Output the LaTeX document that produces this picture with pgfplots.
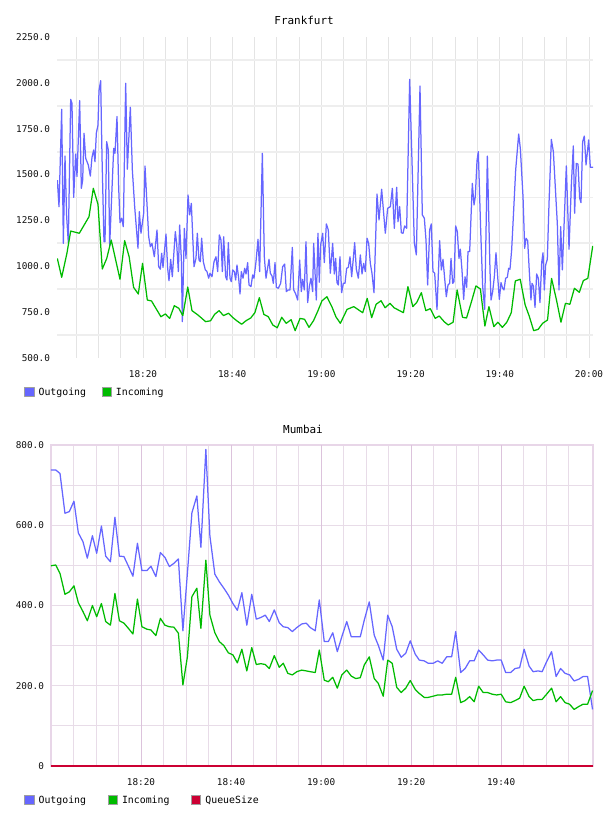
\documentclass[border=0pt]{standalone}
\usepackage{fontspec}
\usepackage{pgfplots}
\usepackage{pgfplotstable}
\pgfplotsset{compat=1.18}
\newfontfamily\chartfont{DejaVu Sans Mono}
\newcommand\tickfont{\chartfont\fontsize{9.4}{10}\selectfont}
\newcommand\legfont{\chartfont\fontsize{9.9}{10}\selectfont}
\newcommand\titlefont{\chartfont\fontsize{11}{12}\selectfont}

\definecolor{outblue}{HTML}{6666FF}
\definecolor{ingreen}{HTML}{00BB00}
\definecolor{queuered}{HTML}{CC0033}
\definecolor{fgrid}{HTML}{E4E4E4}
\definecolor{fgridh}{HTML}{EEEEEE}
\definecolor{mgrid}{HTML}{E8DCE8}
\definecolor{mgridmaj}{HTML}{DCC3DC}
\definecolor{mframe}{HTML}{E8D6E8}
\definecolor{ticktext}{HTML}{111111}

% Frankfurt: time in minutes after 18:00 (sampling clock), bytes/s
\pgfplotstableread{
t v
0.86 1470
1.23 1325
1.83 1856
2.20 1125
2.57 1601
2.94 1270
3.31 1129
3.84 1910
4.13 1889
4.51 1376
4.95 1612
5.25 1489
5.85 1903
6.22 1425
6.52 1470
6.82 1725
7.19 1589
7.78 1552
8.23 1492
8.60 1594
8.98 1634
9.27 1570
9.57 1725
9.94 1770
10.17 1957
10.54 2012
10.84 1598
11.28 1134
11.51 1134
11.88 1679
12.25 1634
12.55 1111
13.00 1380
13.45 1643
13.74 1616
14.19 1816
14.56 1434
14.86 1238
15.23 1262
15.60 1216
16.13 1998
16.50 1529
17.17 1867
17.62 1525
18.14 1325
18.88 1098
19.18 1298
19.55 1180
20.15 1289
20.45 1547
21.27 1161
21.64 1107
22.00 1125
22.53 1052
23.13 1198
23.50 998
23.87 984
24.17 1071
24.47 994
25.14 1176
25.51 989
25.81 921
26.18 1038
26.55 943
27.22 1189
27.52 1125
27.90 971
28.19 1225
28.57 1038
28.79 698
29.24 1207
29.61 1043
30.06 1389
30.43 1280
30.80 1343
31.40 998
31.84 1043
32.14 1180
32.51 1034
32.81 1025
33.11 1153
33.48 1025
33.93 980
34.30 971
34.67 935
34.97 962
35.42 943
35.87 1025
36.31 1052
36.69 971
37.06 1171
37.43 1143
37.73 971
38.03 1161
38.47 943
38.77 925
39.07 1129
39.44 935
39.74 916
40.04 980
40.41 971
40.71 925
41.00 1007
41.38 935
41.68 849
41.97 971
42.35 935
42.72 989
43.02 958
43.39 1020
43.69 898
44.13 889
44.51 953
44.80 935
45.25 1025
45.70 1147
46.07 971
46.67 1616
47.11 1052
47.49 935
47.78 980
48.16 1038
48.45 962
48.83 947
49.12 907
49.50 1020
49.80 885
50.24 880
50.76 907
51.21 998
51.66 1012
52.03 862
52.40 871
52.85 871
53.37 1103
53.67 871
54.12 849
54.56 816
55.01 1034
55.38 862
55.68 929
56.05 871
56.42 1134
56.80 802
57.17 889
57.54 935
57.91 862
58.14 1125
58.73 816
59.10 1180
59.40 913
59.70 1116
60.15 1180
60.52 1020
60.97 1231
61.41 1198
61.86 962
62.38 1125
62.75 958
63.05 1043
63.35 911
63.65 898
64.02 1052
64.39 856
64.76 907
65.14 907
65.51 989
65.88 994
66.26 1052
66.63 943
67.00 1043
67.30 1129
67.67 984
68.12 935
68.57 1062
68.94 958
69.31 1016
69.68 971
70.06 1153
70.43 1125
70.80 1016
71.17 962
71.62 856
72.29 1394
72.74 1252
73.33 1420
74.15 1180
74.67 1316
75.27 1325
75.72 1425
76.16 1207
76.69 1431
76.98 1243
77.36 1325
77.73 1183
78.10 1180
78.47 1220
78.92 1207
79.59 2019
80.63 1129
81.08 1062
81.90 1983
82.42 1280
82.87 1262
83.24 1143
83.61 898
84.06 1198
84.43 1231
84.80 971
85.18 962
85.70 765
86.29 1140
86.67 980
87.04 1038
87.41 935
87.78 834
88.16 898
88.53 907
88.83 1043
89.20 907
89.50 916
89.87 1220
90.24 1189
90.61 1043
90.91 1093
91.28 980
91.66 820
91.96 943
92.33 885
92.63 1080
93.00 1080
93.59 1452
93.97 1334
94.26 1380
94.64 1576
94.93 1625
95.46 1198
95.90 893
96.35 765
96.95 1601
97.54 980
97.77 816
98.14 862
98.51 943
98.88 1074
99.26 943
99.63 820
100.00 911
100.37 880
100.67 871
101.04 935
101.42 940
101.71 989
102.01 984
102.38 1089
102.76 1270
103.28 1525
103.95 1721
104.32 1643
104.92 1380
105.29 1098
105.59 1153
105.96 1140
106.33 971
106.70 816
106.93 907
107.23 893
107.60 776
107.97 958
108.34 935
108.71 802
109.09 1020
109.39 1074
109.68 871
109.98 1007
110.35 1038
110.73 1343
111.25 1692
111.70 1625
112.59 1231
112.96 871
113.34 1216
113.71 980
114.08 1216
114.60 1547
115.20 1093
115.72 1443
116.16 1656
116.46 1289
116.83 1561
117.21 1557
117.58 1371
117.88 1347
118.25 1679
118.62 1710
119.00 1552
119.59 1689
119.96 1540
120.63 1540
}\frOut

\pgfplotstableread{
t v
0.85 1043
1.83 940
3.00 1071
3.84 1192
5.77 1180
7.93 1270
8.90 1425
9.94 1338
10.90 985
11.90 1043
12.90 1143
14.86 929
15.90 1140
16.90 1052
17.90 885
18.95 849
19.90 1016
20.96 816
21.90 811
24.00 725
25.00 740
25.96 716
27.00 785
28.00 771
28.90 731
30.00 887
30.95 758
32.30 734
34.00 698
35.10 703
36.00 738
37.00 758
38.00 731
39.10 744
40.00 722
41.00 702
42.05 684
43.00 703
44.07 718
45.00 747
46.00 829
47.00 738
48.00 725
49.00 680
50.00 665
51.00 722
52.00 689
53.10 709
54.00 649
55.10 716
56.10 711
57.10 667
58.10 703
59.10 758
60.00 812
61.10 834
62.20 780
63.10 725
64.10 689
65.60 765
67.10 780
69.10 747
70.10 825
71.10 720
72.10 793
73.20 812
74.10 774
75.20 798
76.10 774
78.20 747
79.20 889
80.30 780
81.20 804
82.20 856
83.20 758
84.20 769
85.30 716
86.20 729
87.30 698
88.20 680
89.30 695
90.20 871
91.40 722
92.30 718
93.40 807
94.40 893
95.40 876
96.40 674
97.30 780
98.40 671
99.30 695
100.30 667
101.30 695
102.30 747
103.20 920
104.30 929
105.40 789
106.30 729
107.30 649
108.30 656
109.30 689
110.40 707
111.30 934
112.40 816
113.40 695
114.40 798
115.40 793
116.40 880
117.50 858
118.40 922
119.40 934
120.50 1111
}\frIn

% Mumbai: minutes after 18:00
\pgfplotstableread{
t v
0 738
1.04 738
2.0 729
3.1 630
4.07 634
5.1 660
6.07 581
7.1 559
8.07 518
9.2 574
10.15 530
11.2 598
12.15 523
13.2 509
14.2 620
15.2 523
16.2 522
17.2 498
18.2 473
19.2 555
20.2 487
21.3 487
22.2 498
23.3 472
24.3 532
25.3 520
26.3 497
27.3 505
28.3 516
29.3 337
30.3 480
31.3 631
32.4 673
33.3 545
34.4 789
35.3 573
36.4 478
37.4 459
38.4 443
39.4 426
40.4 405
41.4 388
42.4 432
43.5 351
44.6 428
45.6 366
46.6 370
47.6 376
48.5 360
49.6 389
50.7 357
51.6 347
52.6 345
53.6 335
54.6 345
55.7 354
56.7 356
57.6 345
58.7 337
59.6 414
60.7 310
61.6 310
62.6 332
63.6 285
64.6 322
65.7 360
66.7 322
67.7 322
68.7 322
69.6 364
70.7 409
71.8 326
72.7 301
73.8 264
74.8 376
75.8 347
76.8 291
77.8 271
78.8 281
79.8 312
80.9 279
81.8 264
82.9 262
83.8 256
84.9 256
85.9 262
86.9 256
87.9 272
89.0 272
89.9 335
91.0 233
92.0 243
93.0 262
94.0 262
95.0 289
96.0 277
97.0 264
98.0 262
99.0 264
100.0 264
101.0 233
102.1 233
103.1 243
104.1 245
105.1 291
106.2 249
107.1 235
108.2 237
109.1 235
110.1 260
111.2 285
112.2 223
113.2 243
114.2 231
115.2 227
116.2 212
117.2 216
118.2 223
119.2 223
120.3 141
}\muOut

\pgfplotstableread{
t v
0 499
1.04 501
2.0 480
3.1 428
4.07 434
5.1 449
6.07 407
7.1 385
8.07 362
9.2 400
10.15 372
11.2 405
12.15 360
13.2 351
14.2 430
15.2 362
16.2 356
17.2 343
18.2 329
19.2 416
20.2 347
21.3 341
22.2 339
23.3 325
24.3 368
25.3 351
26.3 347
27.3 346
28.3 331
29.3 202
30.3 272
31.3 422
32.4 443
33.3 343
34.4 513
35.3 376
36.4 332
37.4 310
38.4 300
39.4 282
40.4 277
41.4 257
42.4 291
43.5 237
44.6 295
45.6 253
46.6 255
47.6 253
48.5 243
49.6 275
50.7 246
51.6 256
52.6 231
53.6 227
54.6 235
55.7 239
56.7 237
57.6 235
58.7 233
59.6 289
60.7 214
61.6 210
62.6 221
63.6 194
64.6 227
65.7 239
66.7 224
67.7 218
68.7 220
69.6 252
70.7 272
71.8 218
72.7 206
73.8 174
74.8 264
75.8 256
76.8 196
77.8 183
78.8 194
79.8 213
80.9 191
81.8 181
82.9 171
83.8 171
84.9 174
85.9 177
86.9 177
87.9 179
89.0 179
89.9 221
91.0 158
92.0 163
93.0 173
94.0 160
95.0 199
96.0 183
97.0 183
98.0 179
99.0 177
100.0 179
101.0 160
102.1 158
103.1 163
104.1 169
105.1 199
106.2 173
107.1 163
108.2 166
109.1 166
110.1 179
111.2 194
112.2 160
113.2 173
114.2 158
115.2 154
116.2 141
117.2 148
118.2 154
119.2 154
120.3 188
}\muIn

\pgfplotstableread{
t v
0 0
30 0
60 0
90 0
120.3 0
}\muQueue

\pgfplotsset{
  netchart/.style={
    scale only axis,
    anchor=south west,
    height=321bp,
    major tick length=0pt,
    minor tick length=0pt,
    tick label style={font=\tickfont, text=ticktext},
    yticklabel style={xshift=-3.5bp},
    xticklabel style={yshift=-9bp},
    title style={font=\titlefont},
    legend cell align=left,
    legend style={draw=none, fill=none, inner sep=0pt, font=\legfont,
      nodes={inner sep=2.5bp},
      /tikz/every odd column/.append style={column sep=1.6bp}},
    every axis plot/.append style={line width=1.25bp, line join=round},
  },
  swatch/.style={legend image code/.code={
      \draw[draw=gray!75, fill=#1, line width=0.9bp] (0bp,-4.6bp) rectangle (9.4bp,4.6bp);}},
}

\begin{document}
\begin{tikzpicture}
\useasboundingbox (0,0) rectangle (608bp,816bp);

% ---------------- Frankfurt ----------------
\begin{axis}[netchart,
  at={(57bp,458bp)}, width=536bp,
  xmin=0.782, xmax=120.56,
  ymin=500, ymax=2250,
  axis line style={draw=none},
  xtick={20,39.933,59.866,79.799,99.732,119.665},
  xticklabels={18:20,18:40,19:00,19:20,19:40,20:00},
  minor xtick={5.050,10.034,15.017,24.983,29.967,34.950,44.916,49.900,54.883,64.849,69.833,74.816,84.782,89.766,94.749,104.715,109.699,114.682},
  xmajorgrids, xminorgrids,
  major grid style={color=fgrid, line width=0.8bp},
  minor grid style={color=fgrid, line width=0.8bp},
  ytick={500,750,...,2250},
  yticklabels={500.0,750.0,1000.0,1250.0,1500.0,1750.0,2000.0,2250.0},
  extra y ticks={625,875,1125,1375,1625,1875,2125},
  extra y tick labels={},
  extra y tick style={ymajorgrids=true, xmajorgrids=false, xminorgrids=false,
    major grid style={color=fgridh, line width=1.8bp}},
  title={Frankfurt},
  title style={at={(0.461,1.053)}, anchor=center, yshift=-6bp},
  legend columns=-1,
  legend style={at={(-0.0616,-0.106)}, anchor=west,
    /tikz/every even column/.append style={column sep=13bp}},
]
\addplot[outblue, swatch=outblue] table[x=t, y=v] {\frOut};
\addlegendentry{Outgoing}
\addplot[ingreen, swatch=ingreen] table[x=t, y=v] {\frIn};
\addlegendentry{Incoming}
\end{axis}

% ---------------- Mumbai ----------------
\begin{axis}[netchart,
  at={(51bp,50bp)}, width=542bp,
  xmin=0, xmax=120.4,
  ymin=0, ymax=800,
  clip=false,
  axis line style={color=mframe, line width=1.4bp},
  xtick={5,10,...,115},
  xticklabels={},
  xmajorgrids,
  major grid style={color=mgrid, line width=0.9bp},
  minor grid style={color=mgrid, line width=0.9bp},
  extra x ticks={20,40,60,80,100},
  extra x tick labels={18:20,18:40,19:00,19:20,19:40},
  extra x tick style={xmajorgrids=true, ymajorgrids=false, yminorgrids=false,
    major grid style={color=mgridmaj, line width=0.9bp}},
  ytick={0,200,...,800},
  yticklabels={0,200.0,400.0,600.0,800.0},
  minor ytick={100,300,500,700},
  ymajorgrids, yminorgrids,
  title={Mumbai},
  title style={at={(0.465,1.050)}, anchor=center, yshift=-6bp},
  legend columns=-1,
  legend style={at={(-0.0498,-0.106)}, anchor=west,
    /tikz/every even column/.append style={column sep=19bp}},
]
\addplot[outblue, swatch=outblue] table[x=t, y=v] {\muOut};
\addlegendentry{Outgoing}
\addplot[ingreen, swatch=ingreen] table[x=t, y=v] {\muIn};
\addlegendentry{Incoming}
\addplot[queuered, line width=1.6bp, swatch=queuered] table[x=t, y=v] {\muQueue};
\addlegendentry{QueueSize}
\end{axis}
\end{tikzpicture}
\end{document}
